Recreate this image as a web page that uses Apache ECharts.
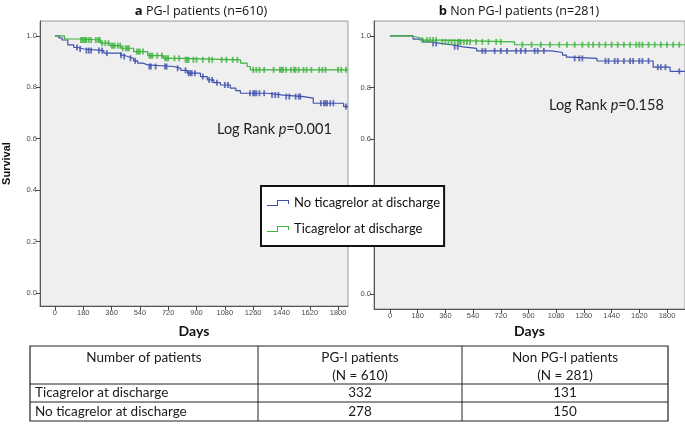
<!DOCTYPE html>
<html>
<head>
<meta charset="utf-8">
<script src="https://cdn.jsdelivr.net/npm/echarts@6/dist/echarts.min.js"></script>
<style>
html,body{margin:0;padding:0;background:#fff;}
#chart{width:685px;height:424px;}
</style>
</head>
<body>
<div id="chart"></div>
<script>
// ---------- data ----------
var xTicks = [0, 180, 360, 540, 720, 900, 1080, 1260, 1440, 1620, 1800];
var yTicks = [0, 0.2, 0.4, 0.6, 0.8, 1.0];

// Panel a: PG-l patients
var aNoTicaTimes = [0, 25, 45, 82, 120, 146, 184, 311, 418, 440, 462, 500, 526, 560, 590, 755, 800, 842, 925, 968, 1010, 1052, 1115, 1150, 1179, 1350, 1452, 1580, 1642, 1835];
var aNoTicaSurv  = [1.0, 0.992, 0.984, 0.965, 0.955, 0.949, 0.943, 0.933, 0.925, 0.92, 0.913, 0.903, 0.894, 0.887, 0.881, 0.874, 0.866, 0.855, 0.842, 0.829, 0.818, 0.809, 0.797, 0.787, 0.777, 0.770, 0.764, 0.758, 0.738, 0.725];
var aTicaTimes = [0, 60, 160, 290, 350, 420, 500, 590, 690, 800, 1180, 1222, 1242];
var aTicaSurv  = [1.0, 0.988, 0.984, 0.972, 0.962, 0.952, 0.939, 0.923, 0.913, 0.907, 0.894, 0.881, 0.868];
var aFollowUpEnd = 1863;
var aTicaCensor = [165, 175, 185, 195, 200, 215, 230, 260, 275, 285, 300, 320, 340, 360, 370, 380, 400, 415, 430, 450, 460, 470, 520, 530, 540, 560, 600, 610, 620, 650, 680, 700, 710, 720, 760, 790, 830, 840, 850, 880, 900, 940, 980, 1000, 1060, 1090, 1130, 1160, 1260, 1280, 1300, 1330, 1390, 1430, 1440, 1450, 1470, 1500, 1520, 1530, 1550, 1580, 1600, 1630, 1680, 1700, 1720, 1800, 1820, 1850];
var aNoTicaCensor = [140, 160, 200, 215, 230, 280, 300, 330, 420, 440, 480, 510, 600, 610, 640, 700, 710, 780, 830, 850, 860, 870, 890, 940, 980, 1000, 1030, 1080, 1100, 1240, 1260, 1270, 1280, 1300, 1330, 1380, 1400, 1420, 1470, 1490, 1530, 1550, 1560, 1690, 1710, 1720, 1730, 1750, 1770, 1850];

// Panel b: Non PG-l patients
var bNoTicaTimes = [0, 150, 214, 259, 330, 410, 475, 563, 1050, 1121, 1146, 1166, 1345, 1710, 1820];
var bNoTicaSurv  = [1.0, 0.988, 0.977, 0.971, 0.965, 0.958, 0.952, 0.942, 0.936, 0.926, 0.918, 0.913, 0.903, 0.879, 0.863];
var bTicaTimes = [0, 130, 194, 324, 810];
var bTicaSurv  = [1.0, 0.994, 0.984, 0.977, 0.966];
var bFollowUpEnd = 1917;
var bTicaCensor = [210, 240, 260, 280, 300, 340, 360, 380, 400, 420, 440, 450, 460, 480, 500, 520, 560, 600, 640, 690, 720, 860, 920, 980, 1040, 1100, 1150, 1200, 1250, 1290, 1320, 1360, 1400, 1440, 1480, 1520, 1560, 1600, 1620, 1640, 1680, 1720, 1760, 1800, 1840, 1880];
var bNoTicaCensor = [280, 300, 420, 440, 600, 620, 680, 720, 760, 820, 850, 880, 940, 960, 1000, 1200, 1230, 1250, 1400, 1420, 1460, 1480, 1520, 1560, 1580, 1620, 1640, 1680, 1740, 1760, 1790, 1880];

var panelTitles = ['PG-l patients (n=610)', 'Non PG-l patients (n=281)'];
var panelLetters = ['a', 'b'];
var logRankP = ['0.001', '0.158'];
var seriesNames = ['No ticagrelor at discharge', 'Ticagrelor at discharge'];

var tableHeader = ['Number of patients', 'PG-l patients\n(N = 610)', 'Non PG-l patients\n(N = 281)'];
var tableRowLabels = ['Ticagrelor at discharge', 'No ticagrelor at discharge'];
var tablePG = [332, 278];
var tableNonPG = [131, 150];

// ---------- helpers ----------
var BLUE = '#4051ad', GREEN = '#3cb33d';
function stepData(times, surv, end) {
  var d = times.map(function (t, i) { return [t, surv[i]]; });
  d.push([end, surv[surv.length - 1]]);
  return d;
}
function survAt(times, surv, t) {
  var s = surv[0];
  for (var i = 0; i < times.length; i++) { if (times[i] <= t) s = surv[i]; }
  return s;
}
function censorData(days, times, surv) {
  return days.map(function (t) { return [t, survAt(times, surv, t)]; });
}

var chart = echarts.init(document.getElementById('chart'), null, {renderer: 'canvas'});

function xAxisCfg(gi, min, max, gap) {
  return {
    gridIndex: gi, type: 'value', min: min, max: max,
    name: 'Days', nameLocation: 'middle', nameGap: gap,
    nameTextStyle: {fontFamily: 'Lato', fontWeight: 'bold', fontSize: 14, color: '#111'},
    axisLine: {show: true, onZero: false, lineStyle: {color: '#555', width: 1}},
    axisTick: {show: true, customValues: xTicks, length: 4, lineStyle: {color: '#444'}},
    axisLabel: {show: true, customValues: xTicks, fontSize: 7.5, color: '#4a4a4a', margin: 3, fontFamily: 'Liberation Sans',
      formatter: function (v) { return String(v); }},
    splitLine: {show: false}
  };
}
function yAxisCfg(gi, min, max, named) {
  return {
    gridIndex: gi, type: 'value', min: min, max: max,
    name: named ? 'Survival' : '', nameLocation: 'middle', nameGap: 28,
    nameTextStyle: {fontFamily: 'Liberation Sans', fontWeight: 'bold', fontSize: 11, color: '#111'},
    axisLine: {show: true, onZero: false, lineStyle: {color: '#555', width: 1}},
    axisTick: {show: true, customValues: yTicks, length: 4, lineStyle: {color: '#444'}},
    axisLabel: {show: true, customValues: yTicks, fontSize: 7.5, color: '#4a4a4a', margin: 3, fontFamily: 'Liberation Sans',
      formatter: function (v) { return v.toFixed(1); }},
    splitLine: {show: false}
  };
}
function lineSeries(name, color, gi, data) {
  return {name: name, type: 'line', step: 'end', xAxisIndex: gi, yAxisIndex: gi, data: data,
    showSymbol: false, symbol: 'none', lineStyle: {color: color, width: 1.2}, itemStyle: {color: color},
    silent: true, animation: false, z: 3};
}
function censorSeries(name, color, gi, data) {
  return {name: name, type: 'scatter', xAxisIndex: gi, yAxisIndex: gi, data: data,
    symbol: 'rect', symbolSize: [1.8, 6], itemStyle: {color: color}, silent: true, animation: false, z: 4};
}

// table graphic
var tX = [30, 258, 462, 668], tY = [346, 384, 402, 421];
var tableEls = [];
tableEls.push({type: 'rect', shape: {x: tX[0], y: tY[0], width: tX[3] - tX[0], height: tY[3] - tY[0]},
  style: {fill: '#fff', stroke: '#222', lineWidth: 1.2}});
[tY[1], tY[2]].forEach(function (y) {
  tableEls.push({type: 'line', shape: {x1: tX[0], y1: y, x2: tX[3], y2: y}, style: {stroke: '#222', lineWidth: 1}});
});
[tX[1], tX[2]].forEach(function (x) {
  tableEls.push({type: 'line', shape: {x1: x, y1: tY[0], x2: x, y2: tY[3]}, style: {stroke: '#222', lineWidth: 1}});
});
var tFont = {fontFamily: 'Lato', fontSize: 13.5, fill: '#1a1a1a'};
tableHeader.forEach(function (h, i) {
  tableEls.push({type: 'text', x: (tX[i] + tX[i + 1]) / 2, y: tY[0] + 3,
    style: Object.assign({text: h, align: 'center', verticalAlign: 'top', lineHeight: 18}, tFont)});
});
tableRowLabels.forEach(function (lab, r) {
  var cy = (tY[r + 1] + tY[r + 2]) / 2;
  tableEls.push({type: 'text', x: tX[0] + 5, y: cy, style: Object.assign({text: lab, align: 'left', verticalAlign: 'middle'}, tFont)});
  tableEls.push({type: 'text', x: (tX[1] + tX[2]) / 2, y: cy, style: Object.assign({text: String(tablePG[r]), align: 'center', verticalAlign: 'middle'}, tFont)});
  tableEls.push({type: 'text', x: (tX[2] + tX[3]) / 2, y: cy, style: Object.assign({text: String(tableNonPG[r]), align: 'center', verticalAlign: 'middle'}, tFont)});
});

function logRankText(x, y, p) {
  return {type: 'text', x: x, y: y, z: 10,
    style: {text: '{n|Log Rank }{i|p}{n|=' + p + '}', verticalAlign: 'middle', align: 'left',
      rich: {n: {fontFamily: 'Lato', fontSize: 14.5, fill: '#222'}, i: {fontFamily: 'Lato', fontStyle: 'italic', fontSize: 14.5, fill: '#222'}}}};
}

var stepIcon = 'path://M0,6 L10,6 L10,1 L22,1 L22,5 L21,5 L21,2 L11,2 L11,7 L0,7 Z';

var option = {
  animation: false,
  backgroundColor: '#fff',
  title: [
    {text: '{b|' + panelLetters[0] + '} ' + panelTitles[0], left: 196, top: 0, textAlign: 'center',
      textStyle: {fontFamily: 'Open Sans', fontSize: 12.5, fontWeight: 'normal', color: '#111',
        rich: {b: {fontFamily: 'Open Sans', fontWeight: 'bold', fontSize: 13, color: '#111'}}}},
    {text: '{b|' + panelLetters[1] + '} ' + panelTitles[1], left: 514, top: 0, textAlign: 'center',
      textStyle: {fontFamily: 'Open Sans', fontSize: 12.5, fontWeight: 'normal', color: '#111',
        rich: {b: {fontFamily: 'Open Sans', fontWeight: 'bold', fontSize: 13, color: '#111'}}}}
  ],
  grid: [
    {left: 39, top: 21, width: 309, height: 285, show: true, backgroundColor: '#efefef', borderColor: '#9a9a9a', borderWidth: 1},
    {left: 374, top: 21, width: 312, height: 288, show: true, backgroundColor: '#efefef', borderColor: '#9a9a9a', borderWidth: 1}
  ],
  xAxis: [xAxisCfg(0, -95, aFollowUpEnd, 18), xAxisCfg(1, -104, bFollowUpEnd, 15)],
  yAxis: [yAxisCfg(0, -0.0506, 1.058, true), yAxisCfg(1, -0.058, 1.058, false)],
  legend: {
    orient: 'vertical', left: 261, top: 186,
    backgroundColor: '#fff', borderColor: '#111', borderWidth: 2,
    padding: [8, 4, 8, 6], itemGap: 8, itemWidth: 22, itemHeight: 8,
    selectedMode: false,
    textStyle: {fontFamily: 'Lato', fontSize: 13, color: '#111', lineHeight: 18},
    data: [
      {name: seriesNames[0], icon: stepIcon, itemStyle: {color: BLUE}},
      {name: seriesNames[1], icon: stepIcon, itemStyle: {color: GREEN}}
    ],
    z: 20
  },
  graphic: tableEls.concat([logRankText(217, 129, logRankP[0]), logRankText(549, 105, logRankP[1])]),
  series: [
    lineSeries(seriesNames[0], BLUE, 0, stepData(aNoTicaTimes, aNoTicaSurv, aFollowUpEnd)),
    lineSeries(seriesNames[1], GREEN, 0, stepData(aTicaTimes, aTicaSurv, aFollowUpEnd)),
    censorSeries(seriesNames[0], BLUE, 0, censorData(aNoTicaCensor, aNoTicaTimes, aNoTicaSurv)),
    censorSeries(seriesNames[1], GREEN, 0, censorData(aTicaCensor, aTicaTimes, aTicaSurv)),
    lineSeries(seriesNames[0], BLUE, 1, stepData(bNoTicaTimes, bNoTicaSurv, bFollowUpEnd)),
    lineSeries(seriesNames[1], GREEN, 1, stepData(bTicaTimes, bTicaSurv, bFollowUpEnd)),
    censorSeries(seriesNames[0], BLUE, 1, censorData(bNoTicaCensor, bNoTicaTimes, bNoTicaSurv)),
    censorSeries(seriesNames[1], GREEN, 1, censorData(bTicaCensor, bTicaTimes, bTicaSurv))
  ]
};
chart.setOption(option);
</script>
</body>
</html>
